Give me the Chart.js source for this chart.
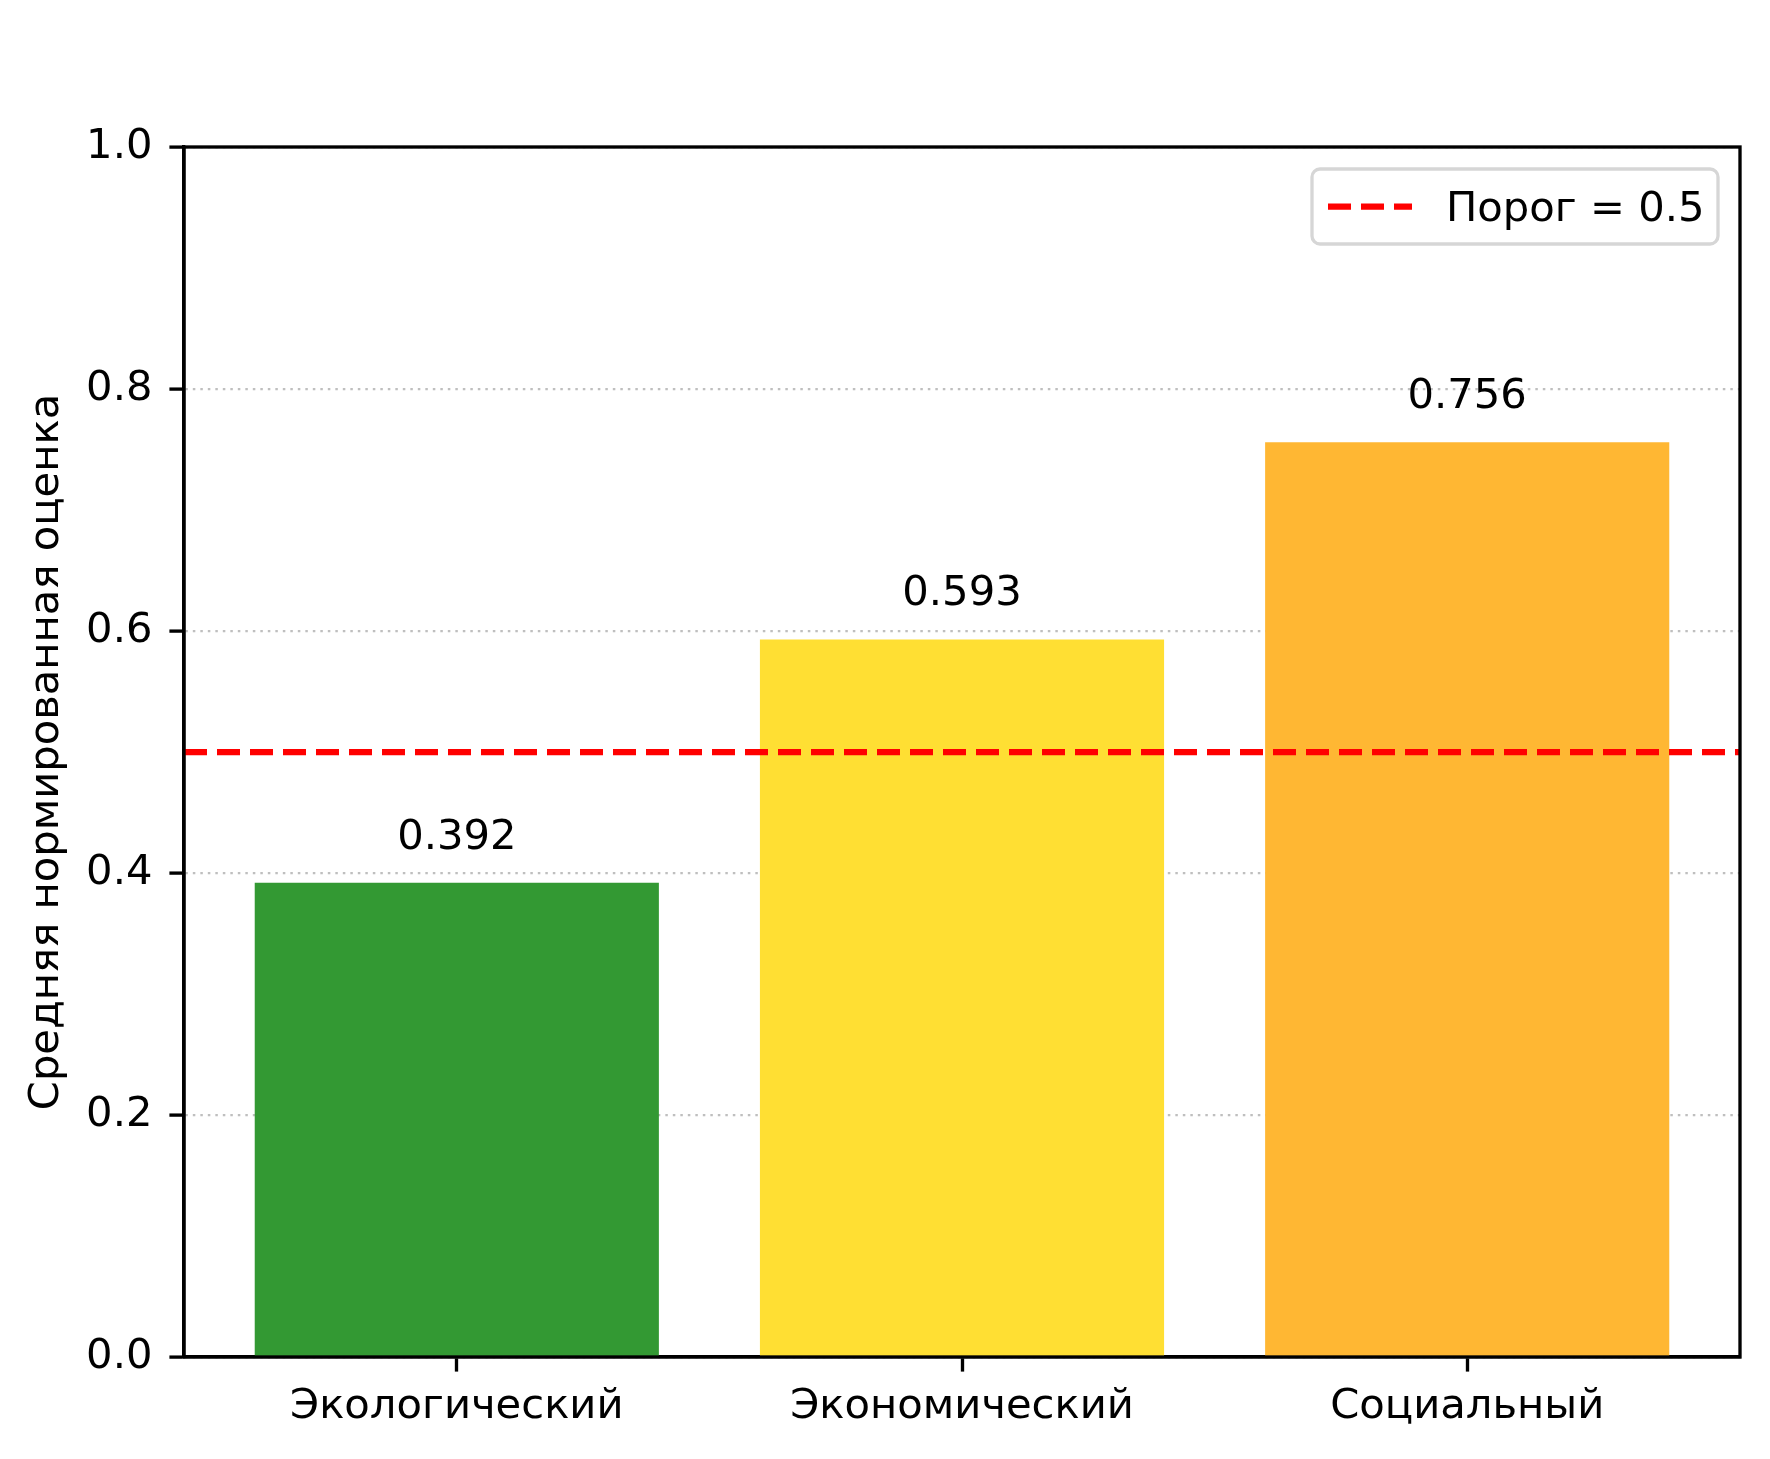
<!DOCTYPE html>
<html>
<head>
<meta charset="utf-8">
<script src="https://cdn.jsdelivr.net/npm/chart.js@4.4.1/dist/chart.umd.min.js"></script>
<style>
html,body{margin:0;padding:0;background:#fff;}
#wrap{width:1770px;height:1459px;position:relative;}
</style>
</head>
<body>
<div id="wrap"><canvas id="c" width="1770" height="1459"></canvas></div>
<script>
const categories = ["Экологический", "Экономический", "Социальный"];
const values = [0.392, 0.593, 0.756];
const barColors = ["#339933", "#FFDF33", "#FFB733"];
const thresholdValue = 0.5;
const thresholdLabel = "Порог = 0.5";
const yTicks = [0.0, 0.2, 0.4, 0.6, 0.8, 1.0];
const yTitle = "Средняя нормированная оценка";
const xMin = -0.54, xMax = 2.54;

const FONT = "'DejaVu Sans', sans-serif";
const FS = 41.7;
const LW = 3.33;

const framePlugin = {
  id: 'frame',
  afterDatasetsDraw(chart) {
    const ctx = chart.ctx;
    const y = chart.scales.y;
    ctx.save();
    ctx.font = FS + "px " + FONT;
    ctx.fillStyle = "#000";
    ctx.textAlign = "center";
    ctx.textBaseline = "alphabetic";
    const meta = chart.getDatasetMeta(0);
    meta.data.forEach((bar, i) => {
      const yy = y.getPixelForValue(values[i] + 0.02) - 0.236 * FS;
      ctx.fillText(values[i].toFixed(3), bar.x, yy);
    });
    ctx.restore();
  },
  afterDraw(chart) {
    const ctx = chart.ctx, a = chart.chartArea;
    ctx.save();
    ctx.strokeStyle = "#000";
    ctx.lineWidth = LW;
    ctx.setLineDash([]);
    ctx.strokeRect(a.left, a.top, a.right - a.left, a.bottom - a.top);
    // legend
    const bx = 1312, by = 169, bw = 406, bh = 75, r = 8;
    ctx.fillStyle = "rgba(255,255,255,0.8)";
    ctx.strokeStyle = "#d6d6d6";
    ctx.lineWidth = 3.3;
    ctx.beginPath();
    ctx.roundRect(bx, by, bw, bh, r);
    ctx.fill();
    ctx.stroke();
    ctx.strokeStyle = "#ff0000";
    ctx.lineWidth = 6.25;
    ctx.setLineDash([23, 10]);
    ctx.beginPath();
    ctx.moveTo(1328, 206.5);
    ctx.lineTo(1412, 206.5);
    ctx.stroke();
    ctx.setLineDash([]);
    ctx.fillStyle = "#000";
    ctx.font = FS + "px " + FONT;
    ctx.textAlign = "left";
    ctx.textBaseline = "alphabetic";
    ctx.fillText(chart.data.datasets[1].label, 1446, 221);
    ctx.restore();
  }
};

new Chart(document.getElementById('c'), {
  type: 'bar',
  data: {
    datasets: [
      {
        type: 'bar',
        label: 'values',
        data: values.map((v, i) => ({x: i, y: v})),
        backgroundColor: barColors,
        borderWidth: 0,
        barPercentage: 0.8,
        categoryPercentage: 1.0,
        order: 1
      },
      {
        type: 'line',
        label: thresholdLabel,
        data: [{x: xMin, y: thresholdValue}, {x: xMax, y: thresholdValue}],
        borderColor: "#ff0000",
        borderWidth: 6.25,
        borderDash: [23, 10],
        pointRadius: 0,
        fill: false,
        order: 0
      }
    ]
  },
  options: {
    responsive: false,
    animation: false,
    devicePixelRatio: 1,
    layout: {padding: {left: 0, right: 30, top: 147, bottom: 0}},
    plugins: {legend: {display: false}, tooltip: {enabled: false}},
    scales: {
      x: {
        type: 'linear',
        min: xMin,
        max: xMax,
        offset: false,
        afterBuildTicks: (s) => { s.ticks = categories.map((_, i) => ({value: i})); },
        afterFit: (s) => { s.height = 102; },
        ticks: {
          callback: (v) => categories[v] !== undefined ? categories[v] : '',
          font: {family: FONT, size: FS},
          color: "#000",
          padding: 11,
          maxRotation: 0,
          autoSkip: false
        },
        grid: {offset: false, drawOnChartArea: false, drawTicks: true, tickLength: 14.6, tickColor: "#000", tickWidth: LW},
        border: {display: true, color: "#000", width: LW}
      },
      y: {
        min: 0,
        max: 1,
        afterBuildTicks: (s) => { s.ticks = yTicks.map(v => ({value: v})); },
        afterFit: (s) => { s.width = 184; },
        ticks: {
          callback: (v) => Number(v).toFixed(1),
          font: {family: FONT, size: FS},
          color: "#000",
          padding: 17
        },
        grid: {
          color: "rgba(180,180,180,0.85)",
          lineWidth: 2.2,
          tickBorderDash: [],
          tickLength: 14.6,
          tickColor: "#000",
          tickWidth: LW
        },
        border: {display: true, color: "#000", width: LW, dash: [2.5, 5]},
        title: {
          display: true,
          text: yTitle,
          font: {family: FONT, size: FS},
          color: "#000",
          padding: {top: 22, bottom: 0}
        }
      }
    }
  },
  plugins: [framePlugin]
});
</script>
</body>
</html>
